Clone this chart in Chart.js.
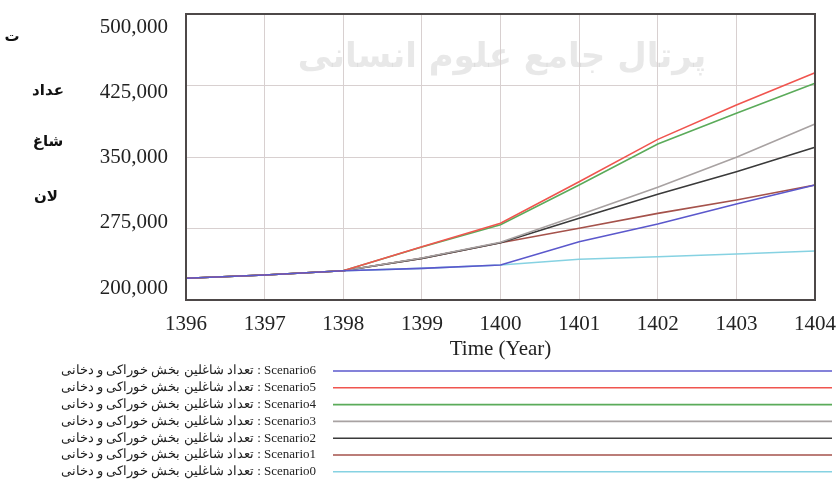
<!DOCTYPE html>
<html lang="fa">
<head>
<meta charset="UTF-8">
<title>تعداد شاغلین بخش خوراکی و دخانی</title>
<script src="https://cdn.jsdelivr.net/npm/chart.js"></script>
<style>
  html, body { margin: 0; padding: 0; background: #fff; }
  #wrap { position: relative; width: 840px; height: 482px; }
</style>
</head>
<body>
<div id="wrap"><canvas id="chart" width="840" height="482"></canvas></div>
<script>
// years on the x axis
const years = ['1396', '1397', '1398', '1399', '1400', '1401', '1402', '1403', '1404'];

// values, one per year
const scenario6 = [222800, 226200, 230700, 233200, 236700, 261200, 279700, 300700, 320600];
const scenario5 = [222800, 226200, 230700, 255900, 280500, 324100, 368500, 404600, 438400];
const scenario4 = [222800, 226200, 230700, 255600, 279000, 320600, 363600, 395900, 427300];
const scenario3 = [222800, 226200, 230700, 244000, 260500, 289200, 318200, 349700, 384600];
const scenario2 = [222800, 226200, 230700, 243700, 260100, 285700, 310900, 334600, 360200];
const scenario1 = [222800, 226200, 230700, 243700, 260100, 275200, 290900, 304900, 320600];
const scenario0 = [222800, 226200, 230700, 233200, 236700, 242700, 245400, 248300, 251400];

const yTickValues = [200000, 275000, 350000, 425000, 500000];
const yTickLabels = ['200,000', '275,000', '350,000', '425,000', '500,000'];

const varName = 'تعداد شاغلین بخش خوراکی و دخانی';
const runNames = ['Scenario6', 'Scenario5', 'Scenario4', 'Scenario3', 'Scenario2', 'Scenario1', 'Scenario0'];
const runColors = ['#5b58cc', '#f0554f', '#5bab5a', '#a8a2a2', '#3a3a3a', '#a5524b', '#86d2e2'];
const runValues = [scenario6, scenario5, scenario4, scenario3, scenario2, scenario1, scenario0];

// left title, cut off in the picture
const sideTitle = ['ت', 'عداد', 'شاغ', 'لان'];

const serif = '"Liberation Serif", "Times New Roman", serif';

const datasets = runNames.map((name, i) => ({
  label: varName + ' : ' + name,
  data: runValues[i],
  borderColor: runColors[i],
  backgroundColor: runColors[i],
  borderWidth: 1.6,
  pointRadius: 0,
  tension: 0,
  fill: false,
  yAxisID: 'y'
}));

// frame, side title, watermark and the legend under the chart
const decor = {
  id: 'decor',
  beforeDraw(chart) {
    const ctx = chart.ctx;
    ctx.save();
    ctx.fillStyle = 'rgba(150,150,150,0.22)';
    ctx.font = 'bold 34px "DejaVu Sans", "Noto Sans", sans-serif';
    ctx.textAlign = 'center';
    ctx.textBaseline = 'middle';
    ctx.direction = 'rtl';
    ctx.fillText('پرتال جامع علوم انسانی', 502, 58);
    ctx.restore();
  },
  afterDatasetsDraw(chart) {
    const ctx = chart.ctx;
    const a = chart.chartArea;
    ctx.save();
    ctx.strokeStyle = '#4d4848';
    ctx.lineWidth = 2;
    ctx.strokeRect(a.left, a.top, a.right - a.left, a.bottom - a.top);
    ctx.restore();
  },
  afterDraw(chart) {
    const ctx = chart.ctx;
    ctx.save();
    // side title
    ctx.fillStyle = '#111';
    ctx.font = 'bold 15px "DejaVu Sans", sans-serif';
    ctx.textAlign = 'center';
    ctx.textBaseline = 'middle';
    const sideY = [37, 91, 142, 197];
    const sideX = [12, 48, 48, 46];
    sideTitle.forEach((t, i) => ctx.fillText(t, sideX[i], sideY[i]));

    // legend
    ctx.textAlign = 'right';
    ctx.font = '13px ' + serif;
    ctx.direction = 'ltr';
    chart.data.datasets.forEach((ds, i) => {
      const y = 371 + i * 16.8;
      ctx.fillStyle = '#222';
      ctx.fillText(ds.label, 316, y);
      ctx.strokeStyle = ds.borderColor;
      ctx.lineWidth = 1.6;
      ctx.beginPath();
      ctx.moveTo(333, y);
      ctx.lineTo(832, y);
      ctx.stroke();
    });
    ctx.restore();
  }
};

new Chart(document.getElementById('chart'), {
  type: 'line',
  data: { labels: years, datasets: datasets },
  options: {
    responsive: false,
    animation: false,
    layout: { padding: { left: 0, top: 14, right: 25, bottom: 116 } },
    plugins: {
      legend: { display: false },
      tooltip: { enabled: false }
    },
    scales: {
      x: {
        type: 'category',
        offset: false,
        border: { display: false },
        grid: { color: '#d8d0d0', lineWidth: 1, drawTicks: true, tickLength: 12, tickColor: 'rgba(0,0,0,0)' },
        ticks: {
          color: '#222',
          font: { family: serif, size: 21 },
          padding: 0,
          maxRotation: 0,
          autoSkip: false
        },
        title: {
          display: true,
          text: 'Time (Year)',
          color: '#222',
          font: { family: serif, size: 21 },
          padding: { top: 0, bottom: 4 }
        },
        afterFit(scale) { scale.height = 66; }
      },
      // data axis: carries the gridlines, its width is the gap before the labels
      y: {
        position: 'left',
        weight: 0,
        min: 200000,
        max: 500000,
        border: { display: false },
        grid: { color: '#d8d0d0', lineWidth: 1, drawTicks: false },
        ticks: { display: false },
        afterBuildTicks(scale) { scale.ticks = yTickValues.map(v => ({ value: v })); },
        afterFit(scale) { scale.width = 18; }
      },
      // label axis: the labels in the picture sit evenly inside the frame
      yl: {
        position: 'left',
        weight: 1,
        min: 186207,
        max: 514943,
        border: { display: false },
        grid: { display: false, drawTicks: false },
        ticks: {
          color: '#222',
          font: { family: serif, size: 21 },
          padding: 0,
          callback: (v) => {
            const k = yTickValues.indexOf(v);
            return k >= 0 ? yTickLabels[k] : '';
          }
        },
        afterBuildTicks(scale) { scale.ticks = yTickValues.map(v => ({ value: v })); },
        afterFit(scale) { scale.width = 168; }
      }
    }
  },
  plugins: [decor]
});
</script>
</body>
</html>
